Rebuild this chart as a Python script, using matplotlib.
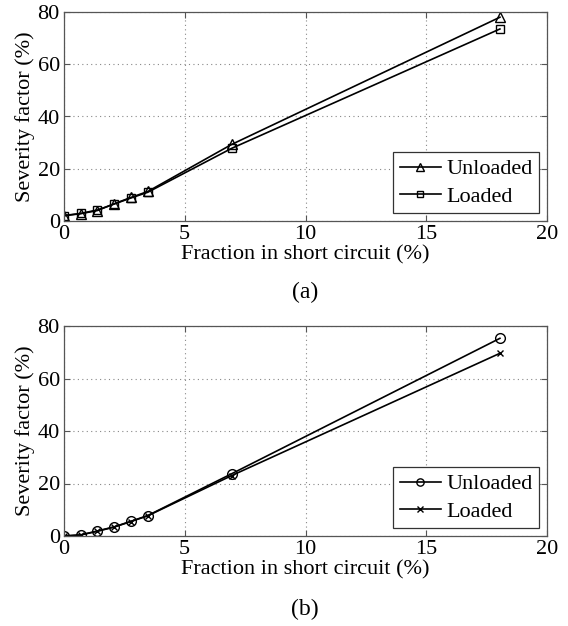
import matplotlib
matplotlib.use("Agg")
import matplotlib.pyplot as plt

plt.rcParams['font.family'] = ['Liberation Serif', 'DejaVu Serif']
plt.rcParams['mathtext.fontset'] = 'stix'

fraction = [0, 0.69, 1.38, 2.08, 2.77, 3.47, 6.94, 18.05]
a_unloaded = [2.0, 2.8, 4.0, 6.6, 9.0, 11.3, 29.3, 78.0]
a_loaded = [2.1, 2.9, 4.2, 6.5, 8.8, 11.0, 27.8, 73.5]
b_unloaded = [0.0, 0.4, 1.9, 3.5, 5.6, 7.8, 23.7, 75.3]
b_loaded = [0.0, 0.4, 1.8, 3.4, 5.5, 7.7, 23.0, 69.6]

xticks = [0, 5, 10, 15, 20]
yticks = [0, 20, 40, 60, 80]

fig = plt.figure(figsize=(5.68, 6.26), dpi=100)
W, H = 568, 626

def make_ax(top, bottom):
    left, right = 64, 547
    return fig.add_axes([left / W, 1 - bottom / H, (right - left) / W, (bottom - top) / H])

ax1 = make_ax(12, 221)
ax2 = make_ax(326, 536)

def style(ax):
    ax.set_xlim(0, 20)
    ax.set_ylim(0, 80)
    ax.set_xticks(xticks)
    ax.set_yticks(yticks)
    ax.grid(True, linestyle=(0, (1, 3)), color='#888888', linewidth=0.8)
    ax.tick_params(direction='in', labelsize=16, length=4, color='#555555',
                   top=True, right=True, pad=3)
    for s in ax.spines.values():
        s.set_color('#555555')
        s.set_linewidth(0.9)
    ax.set_xlabel('Fraction in short circuit (%)', fontsize=16, labelpad=1)
    ax.set_ylabel('Severity factor (%)', fontsize=16, labelpad=2)

ax1.plot(fraction, a_unloaded, color='black', lw=1.2, marker='^', ms=7, mfc='none', mec='black', label='Unloaded')
ax1.plot(fraction, a_loaded, color='black', lw=1.2, marker='s', ms=5.5, mfc='none', mec='black', label='Loaded')
style(ax1)

ax2.plot(fraction, b_unloaded, color='black', lw=1.2, marker='o', ms=7, mfc='none', mec='black', label='Unloaded')
ax2.plot(fraction, b_loaded, color='black', lw=1.2, marker='x', ms=5, mec='black', label='Loaded')
style(ax2)

for ax in (ax1, ax2):
    leg = ax.legend(loc='lower right', fontsize=16, fancybox=False, framealpha=1,
                    edgecolor='#333333', handlelength=1.85, borderaxespad=0.35,
                    handletextpad=0.25, labelspacing=0.3, borderpad=0.3,
                    markerscale=0.75)
    leg.get_frame().set_linewidth(0.9)

fig.text(305 / W, 1 - 292 / H, '(a)', ha='center', va='center', fontsize=17)
fig.text(305 / W, 1 - 609 / H, '(b)', ha='center', va='center', fontsize=17)

fig.savefig('out.png', dpi=100, facecolor='white')
